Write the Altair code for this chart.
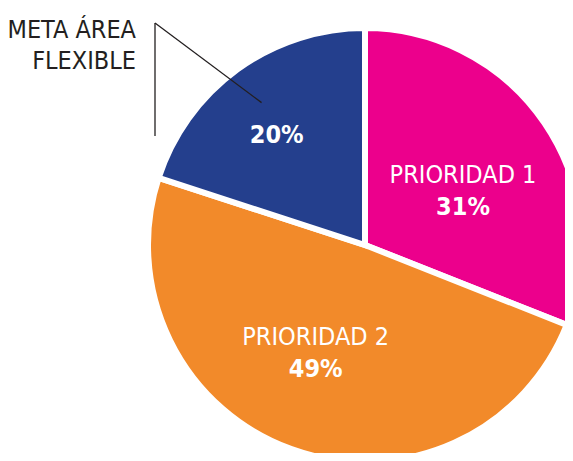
import math
import altair as alt
import pandas as pd

CATEGORIES = ["PRIORIDAD 1", "PRIORIDAD 2", "META ÁREA FLEXIBLE"]
VALUES = [31, 49, 20]
PCT_LABELS = ["31%", "49%", "20%"]
COLORS = ["#EC008C", "#F28A2A", "#243F8D"]

FONT = "'DejaVu Sans Condensed', 'Liberation Sans Narrow', sans-serif"
TEXT_DARK = "#231F20"

# pie geometry (chart pixel coords)
CX, CY, R = 357, 237, 217

total = sum(VALUES)
mids = []
acc = 0
for v in VALUES:
    mids.append((acc + v / 2) / total * 2 * math.pi)
    acc += v

df = pd.DataFrame({
    "cat": CATEGORIES,
    "value": VALUES,
    "pct": PCT_LABELS,
    "i": list(range(len(CATEGORIES))),
    "mid": mids,
})

W, H = 557, 445

base = alt.Chart(df)

pie = base.mark_arc(outerRadius=R, stroke="white", strokeWidth=6).encode(
    theta=alt.Theta("value:Q", stack=True),
    order=alt.Order("i:Q"),
    color=alt.Color("cat:N", scale=alt.Scale(domain=CATEGORIES, range=COLORS), legend=None),
    x=alt.value(CX),
    y=alt.value(CY),
)


def label(cat, field, radius, dx, dy, weight, size):
    return base.transform_filter(alt.datum.cat == cat).mark_text(
        radius=radius, dx=dx, dy=dy, font=FONT, fontSize=size, fontWeight=weight,
        color="white", align="center", baseline="alphabetic",
    ).encode(
        theta=alt.Theta("mid:Q", scale=None),
        text=alt.Text(f"{field}:N"),
        x=alt.value(CX),
        y=alt.value(CY),
    )


layers = [
    pie,
    label("PRIORIDAD 1", "cat", 118.5, 0, 4.6, "normal", 25),
    label("PRIORIDAD 1", "pct", 118.5, 0, 36.6, "bold", 25),
    label("PRIORIDAD 2", "cat", 116, -10, -9, "normal", 25),
    label("PRIORIDAD 2", "pct", 116, -10, 23, "bold", 25),
    label("META ÁREA FLEXIBLE", "pct", 140, -6, 11, "bold", 25),
]

# leader line to the blue slice
blue_mid = mids[2]
ex = CX + 176 * math.sin(blue_mid)
ey = CY - 176 * math.cos(blue_mid)
KX, KY, KY2 = 147, 15, 128
leader1 = base.transform_filter(alt.datum.i == 0).mark_rule(color=TEXT_DARK, strokeWidth=1.3).encode(
    x=alt.value(KX), y=alt.value(KY), x2=alt.value(ex), y2=alt.value(ey))
leader2 = base.transform_filter(alt.datum.i == 0).mark_rule(color=TEXT_DARK, strokeWidth=1.3).encode(
    x=alt.value(KX), y=alt.value(KY), x2=alt.value(KX), y2=alt.value(KY2))

meta_text = base.transform_filter(alt.datum.i == 2).mark_text(
    font=FONT, fontSize=25, color=TEXT_DARK, align="right", baseline="alphabetic",
    lineBreak="\n", lineHeight=31,
).encode(
    text=alt.value(["META ÁREA", "FLEXIBLE"]),
    x=alt.value(128),
    y=alt.value(30),
)

chart = alt.layer(*layers, leader1, leader2, meta_text).properties(
    width=W, height=H, padding=0, autosize=alt.AutoSizeParams(type="none")
).configure_view(stroke=None)

chart.save("out.html", embed_options={"renderer": "svg", "actions": False})
